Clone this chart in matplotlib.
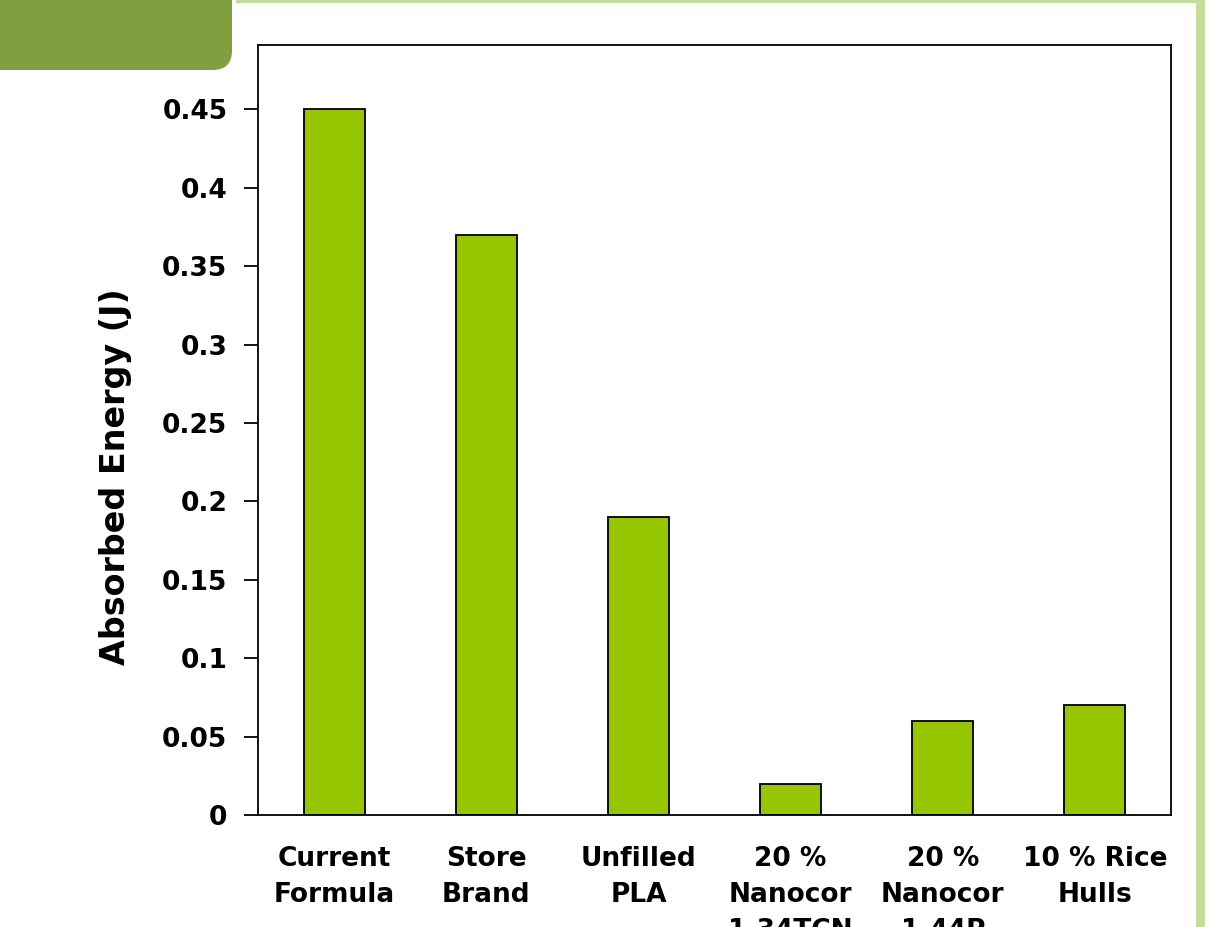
import matplotlib.pyplot as plt
from matplotlib.patches import FancyBboxPatch, Rectangle

categories = ["Current\nFormula", "Store\nBrand", "Unfilled\nPLA",
              "20 %\nNanocor\n1.34TCN", "20 %\nNanocor\n1.44P", "10 % Rice\nHulls"]
energy = [0.45, 0.37, 0.19, 0.02, 0.06, 0.07]
yticks = [0, 0.05, 0.1, 0.15, 0.2, 0.25, 0.3, 0.35, 0.4, 0.45]

fig = plt.figure(figsize=(12.18, 9.27), dpi=100)

# slide decorations
fig.patches.append(FancyBboxPatch((-0.05, 1 - 70 / 927), 232 / 1218 + 0.05, 0.2,
                                  boxstyle="round,pad=0,rounding_size=0.016",
                                  transform=fig.transFigure, facecolor="#80a040",
                                  edgecolor="none", mutation_aspect=1218 / 927))
fig.patches.append(Rectangle((236 / 1218, 1 - 3 / 927), (1205 - 236) / 1218, 3 / 927,
                             transform=fig.transFigure, facecolor="#c6dc9c", edgecolor="none"))
fig.patches.append(Rectangle((1196 / 1218, 0), 9 / 1218, 1,
                             transform=fig.transFigure, facecolor="#c6dc9c", edgecolor="none"))

ax = fig.add_axes([258 / 1218, 1 - 815 / 927, (1171 - 258) / 1218, (815 - 45) / 927])
x = range(len(categories))
ax.bar(x, energy, width=0.4, color="#95c600", edgecolor="black", linewidth=1.3)
ax.set_xlim(-0.5, 5.5)
ax.set_ylim(0, 0.491)
ax.set_yticks(yticks)
ax.set_yticklabels(["0" if v == 0 else ("%g" % v) for v in yticks],
                   fontsize=19, fontweight="bold", family="DejaVu Sans")
ax.set_xticks(list(x))
ax.set_xticklabels(categories, fontsize=19, fontweight="bold", family="DejaVu Sans",
                   linespacing=1.5)
ax.tick_params(axis="x", length=0, pad=22)
ax.tick_params(axis="y", length=10, width=1.3, pad=12)
for s in ax.spines.values():
    s.set_linewidth(1.3)
ax.set_ylabel("Absorbed Energy (J)", fontsize=24, fontweight="bold", family="DejaVu Sans")
ax.yaxis.set_label_coords(-0.138, 0.44)

fig.savefig("out.png", dpi=100)
